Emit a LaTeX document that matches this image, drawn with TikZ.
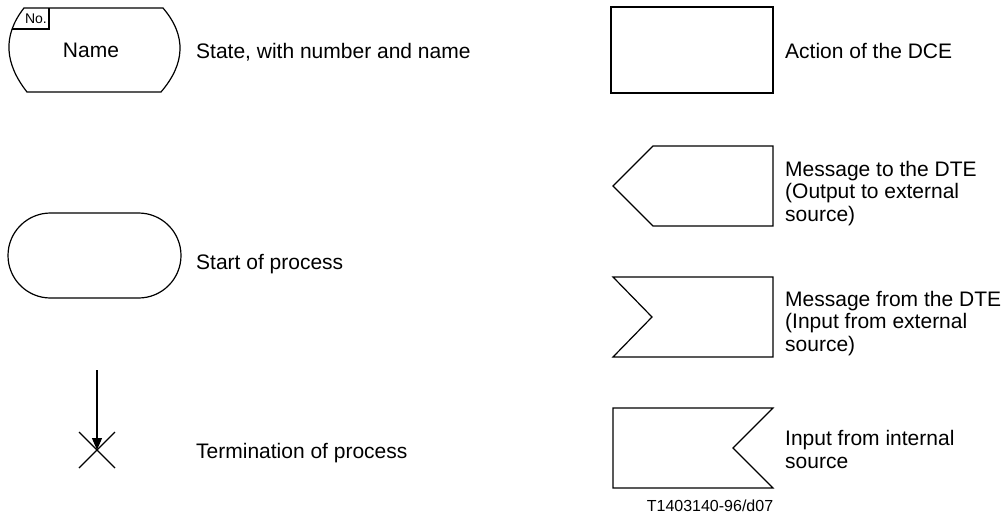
\documentclass[tikz,border=0pt]{standalone}
\usepackage{fontspec}
\setmainfont{Liberation Sans}
\usetikzlibrary{arrows.meta}
\begin{document}
\begin{tikzpicture}[x=1pt,y=-1pt,
  symbol/.style={draw=black,line width=1.2pt,line join=miter},
  legend/.style={anchor=base west,inner sep=0pt,align=left,
    font=\fontsize{21}{22.5}\selectfont},
  smalltext/.style={inner sep=0pt,font=\fontsize{14}{16}\selectfont},
  codetext/.style={inner sep=0pt,anchor=base,font=\fontsize{16}{18}\selectfont}]
\useasboundingbox (0,0) rectangle (1006,517);

% State symbol: flat top and bottom, convex sides, number tab in the corner
\draw[symbol] (24,8) -- (163,8)
  .. controls (187,36) and (185,64) .. (161,92)
  -- (27,92)
  .. controls (5,64) and (2,36) .. (24,8) -- cycle;
\draw[symbol] (49,8) -- (49,29) -- (12.1,29);
\node[smalltext] (stateno) at (36,19) {No.};
\node[inner sep=0pt,font=\fontsize{21}{22.5}\selectfont] (statename) at (91,50) {Name};
\node[legend] (lstate) at (196,58) {State, with number and name};

% Start of process
\draw[symbol,rounded corners=42.5pt] (8,213) rectangle (181,298);
\node[legend] (lstart) at (196,269) {Start of process};

% Termination of process
\coordinate (termtop) at (97,370);
\coordinate (termend) at (97,450);
\draw[line width=1.2pt,-{Triangle[length=12pt,width=10pt]}] (termtop) -- (termend);
\draw[line width=1.2pt] (79,432) -- (115,468);
\draw[line width=1.2pt] (79,468) -- (115,432);
\node[legend] (lterm) at (196,458) {Termination of process};

% Action of the DCE
\draw[symbol] (611,7) rectangle (773,93);
\node[legend] (laction) at (785,58) {Action of the DCE};

% Multi-line labels are anchored at the baseline of their last line
% Message to the DTE
\draw[symbol] (653,146) -- (773,146) -- (773,226) -- (653,226) -- (613,186) -- cycle;
\node[legend] (lmsgto) at (785,221) {Message to the DTE\\(Output to external\\source)};

% Message from the DTE
\draw[symbol] (613,277) -- (773,277) -- (773,357) -- (613,357) -- (652,317) -- cycle;
\node[legend] (lmsgfrom) at (785,351) {Message from the DTE\\(Input from external\\source)};

% Input from internal source
\draw[symbol] (613,408) -- (773,408) -- (733,448) -- (773,488) -- (613,488) -- cycle;
\node[legend] (linternal) at (785,468) {Input from internal\\source};

\node[codetext] (code) at (710,511) {T1403140-96/d07};
\end{tikzpicture}
\end{document}
